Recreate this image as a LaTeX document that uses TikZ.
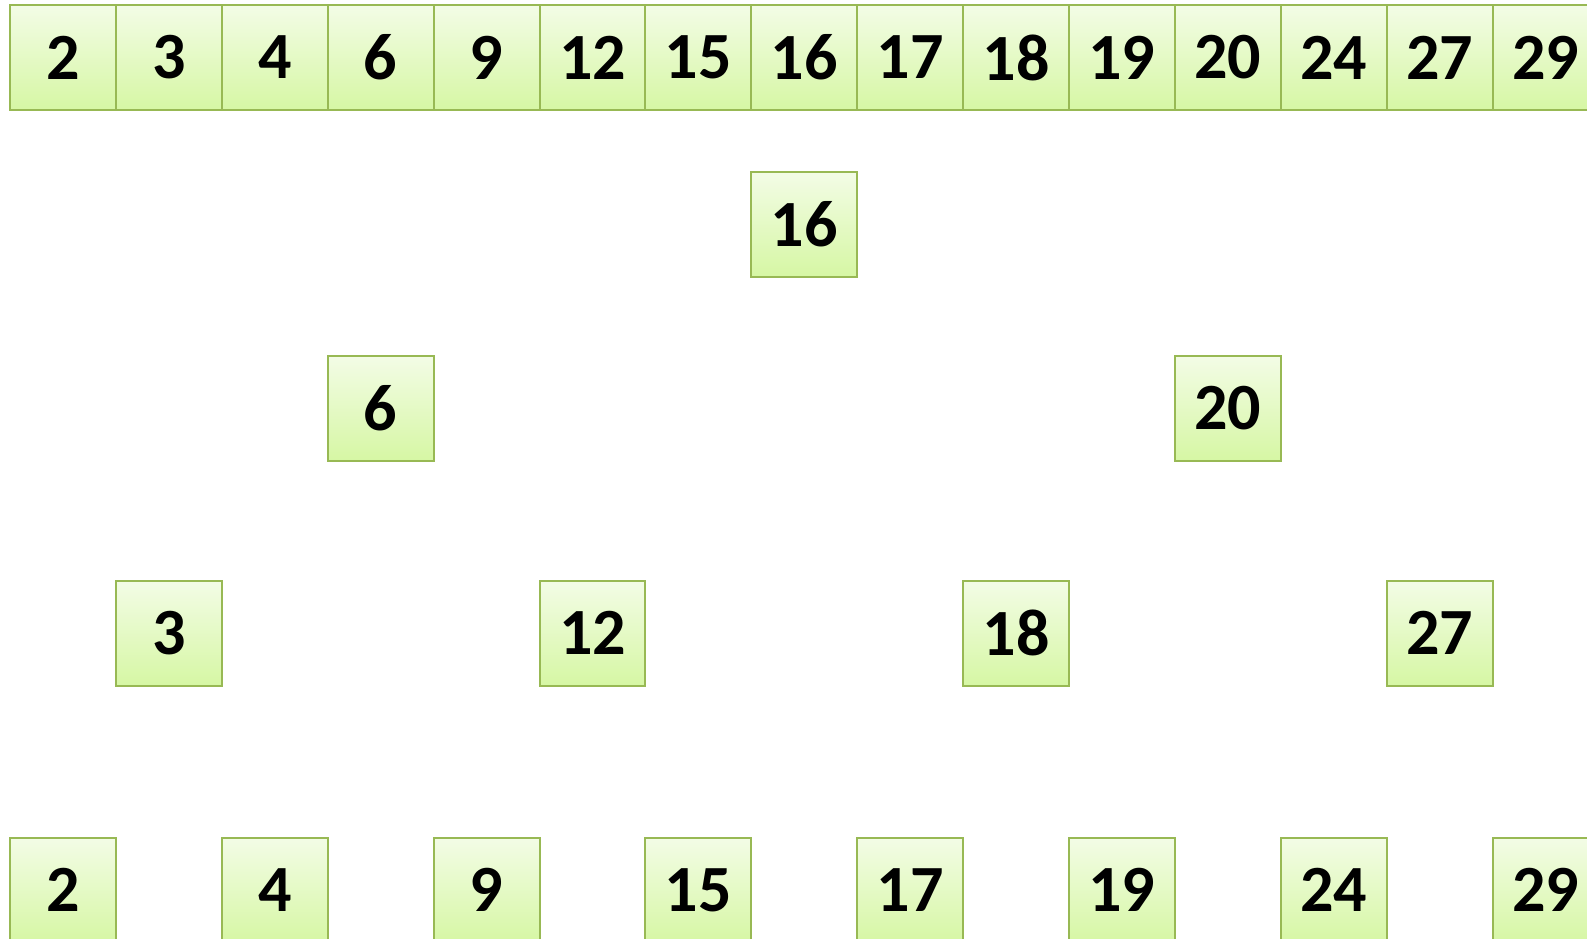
\documentclass[tikz,border=0pt]{standalone}
\usepackage{fontspec}
\setmainfont{Carlito}
\usetikzlibrary{positioning}
\definecolor{cborder}{RGB}{152,185,84}
\definecolor{ctop}{RGB}{243,252,230}
\definecolor{cbot}{RGB}{214,247,164}

\begin{document}
\begin{tikzpicture}[
  x=1pt, y=1pt,
  cell/.style = {rectangle, draw=cborder, line width=2pt,
                 top color=ctop, bottom color=cbot,
                 minimum width=105.9pt, minimum height=105pt,
                 inner sep=0pt, outer sep=0pt,
                 font=\fontsize{66}{66}\selectfont\bfseries},
]
\useasboundingbox (0,0) rectangle (1587,-938);
% Row 0: sorted array
\node[cell] (a1) at (62.95,-57.5) {2};
\foreach \v [count=\i from 2, evaluate=\i as \j using int(\i-1)]
    in {3,4,6,9,12,15,16,17,18,19,20,24,27,29}
  \node[cell, right=0pt of a\j] (a\i) {\v};
% Level 1
\node[cell] (t16) at (a8 |- 0,-224) {16};
% Level 2
\node[cell] (t6)  at (a4 |- 0,-408)  {6};
\node[cell] (t20) at (a12 |- 0,-408) {20};
% Level 3
\foreach \v/\c in {3/2, 12/6, 18/10, 27/14}
  \node[cell] (t\v) at (a\c |- 0,-633) {\v};
% Level 4: leaves
\foreach \v/\c in {2/1, 4/3, 9/5, 15/7, 17/9, 19/11, 24/13, 29/15}
  \node[cell] (l\v) at (a\c |- 0,-890) {\v};
\end{tikzpicture}
\end{document}
